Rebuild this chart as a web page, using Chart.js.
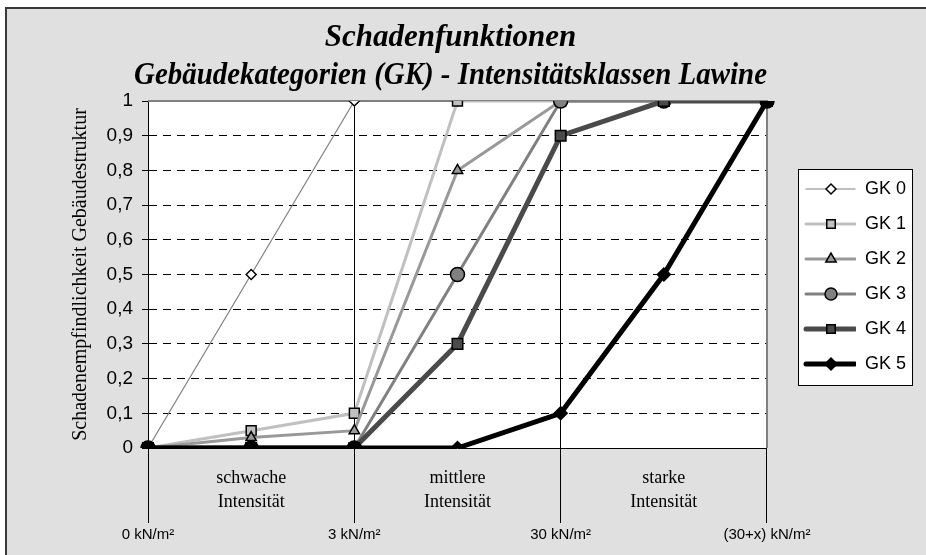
<!DOCTYPE html>
<html>
<head>
<meta charset="utf-8">
<script src="https://cdn.jsdelivr.net/npm/chart.js@4/dist/chart.umd.min.js"></script>
<style>
  html, body { margin: 0; padding: 0; background: #fff; overflow: hidden; }
  #frame {
    position: absolute; left: 5px; top: 7px; width: 919px; height: 546px;
    background: #e0e0e0; border-top: 2px solid #3a3a3a; border-left: 2px solid #3a3a3a;
  }
</style>
</head>
<body>
<div id="frame"><canvas id="chart"></canvas></div>
<script>
// intensity classes between the pressure thresholds
const intensityLabels = ['', ['schwache', 'Intensität'], '', ['mittlere', 'Intensität'], '', ['starke', 'Intensität'], ''];
const pressureLabels = ['0 kN/m²', '', '3 kN/m²', '', '30 kN/m²', '', '(30+x) kN/m²'];

const seriesNames = ['GK 0', 'GK 1', 'GK 2', 'GK 3', 'GK 4', 'GK 5'];
const gk0 = [0, 0.5, 1, 1, 1, 1, 1];
const gk1 = [0, 0.05, 0.1, 1, 1, 1, 1];
const gk2 = [0, 0.03, 0.05, 0.8, 1, 1, 1];
const gk3 = [0, 0, 0, 0.5, 1, 1, 1];
const gk4 = [0, 0, 0, 0.3, 0.9, 1, 1];
const gk5 = [0, 0, 0, 0, 0.1, 0.5, 1];

const yMin = 0, yMax = 1, yStep = 0.1;

const styles = [
  { line: '#808080', width: 1.2, fill: '#ffffff', marker: 'rectRot', r: 5 },
  { line: '#c0c0c0', width: 3, fill: '#c0c0c0', marker: 'rect', r: 7 },
  { line: '#999999', width: 3, fill: '#999999', marker: 'triangle', r: 6 },
  { line: '#808080', width: 3, fill: '#808080', marker: 'circle', r: 7 },
  { line: '#4a4a4a', width: 5, fill: '#4a4a4a', marker: 'rect', r: 7.5 },
  { line: '#000000', width: 5, fill: '#000000', marker: 'rectRot', r: 6.5 }
];

// small canvas with line + marker, used as legend symbol
const SWATCH_W = 72;
function legendSwatch(s) {
  const c = document.createElement('canvas');
  c.width = SWATCH_W; c.height = 18;
  const g = c.getContext('2d');
  g.strokeStyle = s.line; g.lineWidth = s.width; g.lineCap = 'round';
  g.beginPath(); g.moveTo(SWATCH_W - 50, 9); g.lineTo(SWATCH_W - 1, 9); g.stroke();
  g.fillStyle = s.fill; g.strokeStyle = '#000'; g.lineWidth = 1.5;
  Chart.helpers.drawPoint(g, { pointStyle: s.marker, radius: Math.min(s.r, 6), rotation: 0, borderWidth: 1.5 }, SWATCH_W - 25, 9);
  return c;
}

const values = [gk0, gk1, gk2, gk3, gk4, gk5];
const datasets = values.map((data, i) => {
  const s = styles[i];
  let pointStyle = s.marker;
  if (i === 5) {
    // the heavy curve shows round blobs where it sits on 0 and 1
    pointStyle = data.map((v, k) => (k < 3 || k === 6) ? 'circle' : 'rectRot');
  }
  return {
    label: seriesNames[i],
    data,
    order: 5 - i,
    borderColor: s.line,
    borderWidth: s.width,
    pointStyle,
    pointRadius: s.r,
    pointBackgroundColor: s.fill,
    pointBorderColor: '#000',
    pointBorderWidth: 1.5,
    tension: 0
  };
});

const plotFrame = {
  id: 'plotFrame',
  afterLayout(chart) {
    // title sits a little left of the plot centre
    if (chart.titleBlock) chart.titleBlock.left -= 14;
  },
  beforeDraw(chart) {
    const { ctx, chartArea: a, legend } = chart;
    ctx.save();
    ctx.fillStyle = '#fff';
    ctx.fillRect(a.left, a.top, a.width, a.height);
    const hb = legend.legendHitBoxes;
    if (hb && hb.length) {
      const l = hb[0].left + 14, r = hb[0].left + 128;
      const t = hb[0].top - 11, b = hb[hb.length - 1].top + 30;
      ctx.fillRect(l, t, r - l, b - t);
      ctx.strokeStyle = '#000'; ctx.lineWidth = 1;
      ctx.strokeRect(Math.round(l) + 0.5, Math.round(t) + 0.5, Math.round(r - l), Math.round(b - t));
    }
    ctx.restore();
  },
  beforeDatasetsDraw(chart) {
    const { ctx, chartArea: a } = chart;
    ctx.save();
    ctx.strokeStyle = '#808080'; ctx.lineWidth = 2;
    ctx.beginPath();
    ctx.moveTo(a.left, a.top); ctx.lineTo(a.right, a.top); ctx.lineTo(a.right, a.bottom);
    ctx.stroke();
    ctx.restore();
  }
};

const sans = "'Liberation Sans', Arial, sans-serif";
const serif = "'Liberation Serif', 'Times New Roman', serif";

new Chart(document.getElementById('chart'), {
  type: 'line',
  data: { labels: intensityLabels, datasets },
  plugins: [plotFrame],
  options: {
    responsive: true,
    maintainAspectRatio: false,
    animation: false,
    layout: { padding: { left: 0, right: 10, top: 0, bottom: 11 } },
    scales: {
      x: {
        type: 'category',
        position: 'bottom',
        weight: 0,
        offset: false,
        afterFit: s => { s.height = 66; },
        border: { display: true, color: '#000', width: 1 },
        grid: {
          offset: false,
          drawTicks: true,
          tickLength: 75,
          tickWidth: 1,
          color: c => (c.index === 2 || c.index === 4) ? '#000' : 'rgba(0,0,0,0)',
          tickColor: c => (c.index % 2 === 0) ? '#000' : 'rgba(0,0,0,0)',
          lineWidth: 1
        },
        ticks: {
          autoSkip: false, maxRotation: 0, minRotation: 0,
          padding: -56,
          color: '#000',
          font: { family: serif, size: 18, lineHeight: 1.3 }
        }
      },
      xKn: {
        type: 'category',
        labels: pressureLabels,
        position: 'bottom',
        weight: 1,
        offset: false,
        afterFit: s => { s.height = 30; },
        border: { display: false },
        grid: { display: false, drawTicks: false },
        ticks: {
          autoSkip: false, maxRotation: 0, minRotation: 0,
          padding: 12,
          color: '#000',
          font: { family: sans, size: 15 }
        }
      },
      y: {
        min: yMin, max: yMax,
        afterFit: s => { s.width = 141; },
        border: { display: true, color: '#000', width: 1, dash: [8, 6] },
        grid: {
          color: c => (c.tick && c.tick.value > 0.001 && c.tick.value < 0.999) ? '#000' : 'rgba(0,0,0,0)',
          tickColor: '#000',
          tickLength: 6,
          tickWidth: 1,
          lineWidth: 1
        },
        ticks: {
          stepSize: yStep,
          padding: 9,
          color: '#000',
          font: { family: sans, size: 19 },
          callback: v => String(Math.round(v * 10) / 10).replace('.', ',')
        },
        title: {
          display: true,
          text: 'Schadenempfindlichkeit Gebäudestruktur',
          color: '#000',
          font: { family: serif, size: 20 },
          padding: { top: 62, bottom: 0 }
        }
      }
    },
    plugins: {
      title: {
        display: true,
        fullSize: false,
        text: ['Schadenfunktionen', 'Gebäudekategorien (GK) - Intensitätsklassen Lawine'],
        color: '#000',
        font: { family: serif, size: 31, weight: 'bold', style: 'italic', lineHeight: 1.226 },
        padding: { top: 10, bottom: 6 }
      },
      legend: {
        position: 'right',
        align: 'center',
        labels: {
          usePointStyle: true,
          pointStyleWidth: SWATCH_W,
          padding: 17,
          color: '#000',
          font: { family: sans, size: 18 },
          generateLabels: chart => chart.data.datasets.map((ds, i) => ({
            text: ds.label,
            datasetIndex: i,
            hidden: false,
            pointStyle: legendSwatch(styles[i]),
            fillStyle: styles[i].fill,
            strokeStyle: styles[i].line,
            lineWidth: 0,
            fontColor: '#000'
          }))
        }
      },
      tooltip: { enabled: false }
    }
  }
});
</script>
</body>
</html>
